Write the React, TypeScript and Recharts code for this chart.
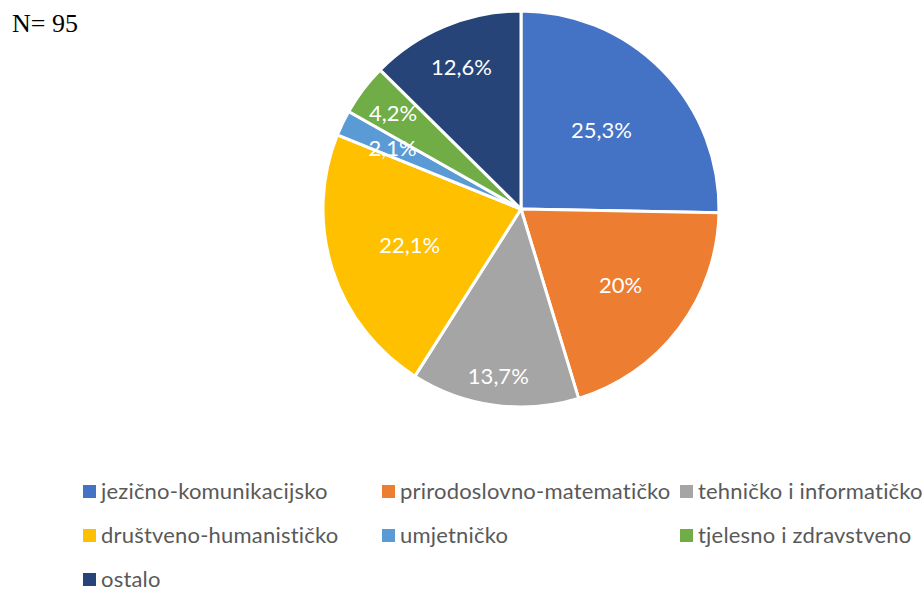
import { PieChart, Pie, Cell } from 'recharts'

const categories = [
  'jezično-komunikacijsko',
  'prirodoslovno-matematičko',
  'tehničko i informatičko',
  'društveno-humanističko',
  'umjetničko',
  'tjelesno i zdravstveno',
  'ostalo',
]
const values = [25.3, 20, 13.7, 22.1, 2.1, 4.2, 12.6]
const labels = ['25,3%', '20%', '13,7%', '22,1%', '2,1%', '4,2%', '12,6%']
const colors = ['#4472C4', '#ED7D31', '#A5A5A5', '#FFC000', '#5B9BD5', '#70AD47', '#264478']

// how far out (as a share of the radius) each data label sits, Excel "best fit" style
const labelRadius = [0.57, 0.63, 0.85, 0.59, 0.72, 0.81, 0.78]

const data = categories.map((name, i) => ({ name, value: values[i] }))

const RAD = Math.PI / 180

function renderLabel(props: any) {
  const { cx, cy, midAngle, outerRadius, index } = props
  const r = outerRadius * labelRadius[index]
  const x = cx + r * Math.cos(-midAngle * RAD)
  const y = cy + r * Math.sin(-midAngle * RAD)
  return (
    <text x={x} y={y} fill="#fff" fontSize={22} fontFamily="Lato, sans-serif"
      textAnchor="middle" dominantBaseline="central">
      {labels[index]}
    </text>
  )
}

// legend grid: 3 columns
const legendCols = [83, 382, 680]
const legendRows = [491, 535, 579]

export default function App() {
  return (
    <div style={{ position: 'absolute', left: 0, top: 0, width: 923, height: 589, background: '#fff', overflow: 'hidden' }}>
      <div style={{ position: 'absolute', left: 12, top: 9, fontFamily: 'Liberation Serif, serif', fontSize: 26, color: '#000' }}>
        N= 95
      </div>
      <PieChart width={923} height={589} margin={{ top: 0, right: 0, bottom: 0, left: 0 }}>
        <Pie
          data={data}
          dataKey="value"
          cx={521}
          cy={209}
          outerRadius={198}
          startAngle={90}
          endAngle={-270}
          stroke="#fff"
          strokeWidth={3}
          label={renderLabel}
          labelLine={false}
          isAnimationActive={false}
        >
          {data.map((d, i) => <Cell key={d.name} fill={colors[i]} />)}
        </Pie>
      </PieChart>
      {categories.map((c, i) => {
        const x = legendCols[i % 3]
        const y = legendRows[Math.floor(i / 3)]
        return (
          <div key={c} style={{ position: 'absolute', left: x, top: y - 9, height: 18, lineHeight: '18px', display: 'flex', alignItems: 'center',
            fontFamily: 'Lato, sans-serif', fontSize: 22, letterSpacing: 0.2, color: '#595959', whiteSpace: 'nowrap' }}>
            <span style={{ display: 'inline-block', width: 13, height: 13, background: colors[i], marginRight: 5 }} />
            {c}
          </div>
        )
      })}
    </div>
  )
}
